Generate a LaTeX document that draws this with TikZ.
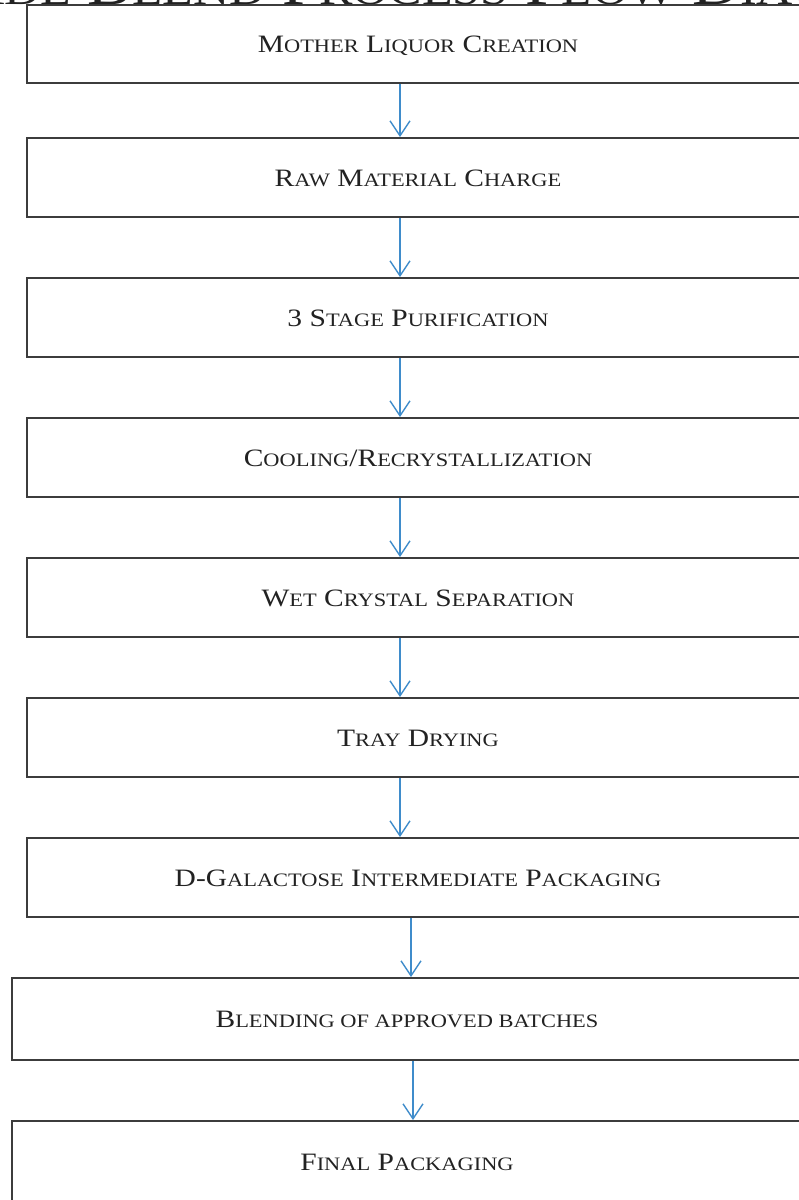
\documentclass[tikz,border=0pt]{standalone}
\usepackage{fontspec}
\setmainfont{Liberation Serif}
\usepackage{graphicx}
\usetikzlibrary{arrows.meta}
\definecolor{boxgray}{HTML}{3C3C3C}
\definecolor{arrblue}{HTML}{3F8CCB}
\definecolor{textblack}{HTML}{222222}
\newcommand\smc[1]{{\fontsize{19}{19}\selectfont #1}}
\newcommand\tsm[1]{{\fontsize{42.5}{42.5}\selectfont #1}}
\newcommand\bx[1]{\scalebox{1.18}[1]{#1}}
\begin{document}
\begin{tikzpicture}[x=1pt,y=-1pt,
  stepbox/.style={draw=boxgray, line width=1.8pt, rectangle, inner sep=0pt,
    text height=17pt, text depth=0pt, font=\fontsize{25}{25}\selectfont, text=textblack},
  widebox/.style={stepbox, minimum width=782pt, minimum height=79pt},
  lowbox/.style={stepbox, minimum width=790pt, minimum height=82pt},
  flow/.style={draw=arrblue, line width=1.4pt,
    -{Straight Barb[length=15pt,width=20pt,line width=1.4pt]}},
  titletext/.style={inner sep=0pt, anchor=base west, text=textblack,
    font=\fontsize{56}{56}\selectfont}]
\useasboundingbox (0,0) rectangle (799,1200);
\clip (0,0) rectangle (799,1200);
\fill[white] (0,0) rectangle (799,1200);

% title (cut off at the top edge)
\node[titletext] (title) at (-113,4.5)
  {\bx{G\tsm{RADE} B\tsm{LEND} P\tsm{ROCESS} F\tsm{LOW} D\tsm{IAGRAM}}};

% boxes
\node[widebox, minimum height=78pt] (b1) at (418,44)
  {\bx{M\smc{OTHER} L\smc{IQUOR} C\smc{REATION}}};
\node[widebox] (b2) at (418,177.5)
  {\bx{R\smc{AW} M\smc{ATERIAL} C\smc{HARGE}}};
\node[widebox] (b3) at (418,317.5)
  {\bx{3 S\smc{TAGE} P\smc{URIFICATION}}};
\node[widebox] (b4) at (418,457.5)
  {\bx{C\smc{OOLING}/R\smc{ECRYSTALLIZATION}}};
\node[widebox] (b5) at (418,597.5)
  {\bx{W\smc{ET} C\smc{RYSTAL} S\smc{EPARATION}}};
\node[widebox] (b6) at (418,737.5)
  {\bx{T\smc{RAY} D\smc{RYING}}};
\node[widebox] (b7) at (418,877.5)
  {\bx{D-G\smc{ALACTOSE} I\smc{NTERMEDIATE} P\smc{ACKAGING}}};
\node[lowbox] (b8) at (407,1019)
  {\bx{B\smc{LENDING OF APPROVED BATCHES}}};
\node[lowbox] (b9) at (407,1162)
  {\bx{F\smc{INAL} P\smc{ACKAGING}}};

% arrow axes
\coordinate (ax) at (400,0);
\coordinate (axg) at (411,0);
\coordinate (axh) at (413,0);

% connectors
\draw[flow] (b1.south -| ax) -- (b2.north -| ax);
\draw[flow] (b2.south -| ax) -- (b3.north -| ax);
\draw[flow] (b3.south -| ax) -- (b4.north -| ax);
\draw[flow] (b4.south -| ax) -- (b5.north -| ax);
\draw[flow] (b5.south -| ax) -- (b6.north -| ax);
\draw[flow] (b6.south -| ax) -- (b7.north -| ax);
\draw[flow] (b7.south -| axg) -- (b8.north -| axg);
\draw[flow] (b8.south -| axh) -- (b9.north -| axh);
\end{tikzpicture}
\end{document}
